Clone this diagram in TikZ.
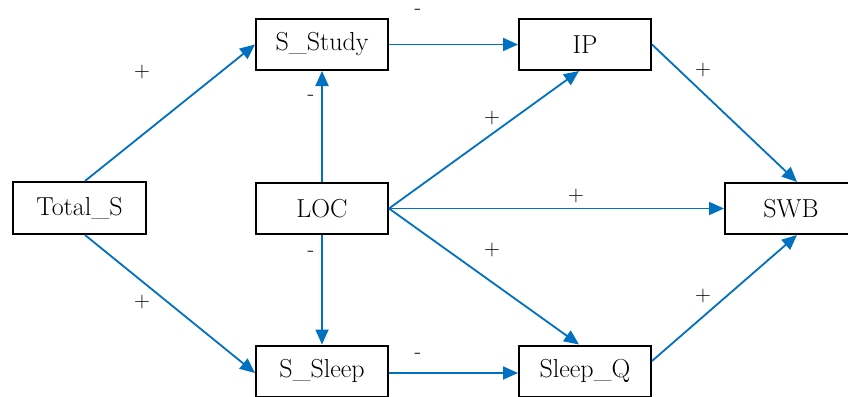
\documentclass[tikz,border=0pt]{standalone}
\usetikzlibrary{arrows.meta}
\definecolor{arrblue}{HTML}{0070C0}
\tikzset{
  box/.style={draw=black, line width=2pt, minimum width=132pt, minimum height=51pt,
    inner sep=0pt, font=\fontsize{26}{30}\selectfont, fill=white},
  conn/.style={draw=arrblue, line width=1.8pt, -{Triangle[length=15pt,width=13pt]}},
  sign/.style={font=\fontsize{22}{24}\selectfont, inner sep=0pt}
}
\begin{document}
\begin{tikzpicture}[x=1pt,y=-1pt]
\useasboundingbox (0,0) rectangle (848,396);
\clip (0,0) rectangle (848,396);
\fill[white] (0,0) rectangle (848,396);
\node[box, minimum width=133pt, minimum height=52pt] (tot) at (79.5,208) {Total\_S};
\node[box] (study) at (322,44.5) {S\_Study};
\node[box] (loc) at (322,208.5) {LOC};
\node[box] (sleep) at (322,371) {S\_Sleep};
\node[box] (ip) at (585,44.5) {IP};
\node[box] (sq) at (585,371) {Sleep\_Q};
\node[box] (swb) at (791,208.5) {SWB};

\draw[conn] ([xshift=5.5pt]tot.north) -- (study.west);
\draw[conn] ([xshift=5.5pt]tot.south) -- ([yshift=-2pt]sleep.west);
\draw[conn] (loc.north) -- (study.south);
\draw[conn] (loc.south) -- (sleep.north);
\draw[conn] (study.east) -- (ip.west);
\draw[conn] ([yshift=-2pt]sleep.east) -- ([yshift=-2pt]sq.west);
\draw[conn] (loc.east) -- ([xshift=-6pt]ip.south);
\draw[conn] (loc.east) -- (swb.west);
\draw[conn] (loc.east) -- ([xshift=-6pt]sq.north);
\draw[conn] (ip.east) -- ([xshift=6pt]swb.north);
\draw[conn] ([yshift=10pt]sq.east) -- ([xshift=6pt]swb.south);

\node[sign] (s1) at (142,72) {+};
\node[sign] (s2) at (418,12) {-};
\node[sign] (s3) at (311,98) {-};
\node[sign] (s4) at (492,118) {+};
\node[sign] (s5) at (703,70) {+};
\node[sign] (s6) at (576,196) {+};
\node[sign] (s7) at (311,254) {-};
\node[sign] (s8) at (142,302) {+};
\node[sign] (s9) at (492,250) {+};
\node[sign] (s10) at (703,296) {+};
\node[sign] (s11) at (418,356) {-};
\end{tikzpicture}
\end{document}
